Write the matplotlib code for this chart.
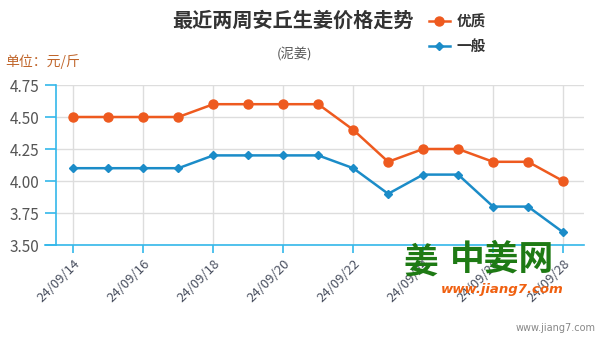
import matplotlib
matplotlib.use("Agg")
import matplotlib.pyplot as plt

plt.rcParams['font.family'] = ['Noto Sans CJK SC', 'DejaVu Sans']

dates = ["24/09/14", "24/09/15", "24/09/16", "24/09/17", "24/09/18", "24/09/19",
         "24/09/20", "24/09/21", "24/09/22", "24/09/23", "24/09/24", "24/09/25",
         "24/09/26", "24/09/27", "24/09/28"]
premium = [4.5, 4.5, 4.5, 4.5, 4.6, 4.6, 4.6, 4.6, 4.4, 4.15, 4.25, 4.25, 4.15, 4.15, 4.0]
regular = [4.1, 4.1, 4.1, 4.1, 4.2, 4.2, 4.2, 4.2, 4.1, 3.9, 4.05, 4.05, 3.8, 3.8, 3.6]
yticks = [3.50, 3.75, 4.00, 4.25, 4.50, 4.75]

orange = "#EE5A1F"
blue = "#1B8CC8"
axis_blue = "#34B8EA"

fig = plt.figure(figsize=(6, 3.4), dpi=100)
ax = fig.add_axes([56/600, 1-245/340, (584-56)/600, (245-85)/340])

x = list(range(len(dates)))
ax.plot(x, premium, color=orange, lw=1.8, marker='o', ms=6.5, label="优质", zorder=3)
ax.plot(x, regular, color=blue, lw=1.8, marker='D', ms=4.5, label="一般", zorder=3)

ax.set_xlim(-0.5, 14.6)
ax.set_ylim(3.5, 4.75)
ax.set_yticks(yticks)
ax.set_yticklabels([f"{v:.2f}" for v in yticks], fontsize=11, color="#555555")
ax.set_xticks(x[::2])
ax.set_xticklabels(dates[::2], rotation=45, ha='right', rotation_mode='anchor',
                   fontsize=9.5, color="#4A5060")

for s in ['top', 'right']:
    ax.spines[s].set_visible(False)
for s in ['left', 'bottom']:
    ax.spines[s].set_color(axis_blue)
    ax.spines[s].set_linewidth(1.2)
ax.tick_params(axis='y', direction='out', length=8, color=axis_blue, width=1.2, pad=4)
ax.tick_params(axis='x', direction='out', length=6, color=axis_blue, width=1.2, pad=3)
ax.grid(True, color="#DDDDDD", lw=1.0, zorder=0)
ax.set_axisbelow(True)

# bottom axis line extends left beyond spine
ax.plot([-0.5 - 11/35, -0.5], [3.5, 3.5], color=axis_blue, lw=1.2, clip_on=False)

fig.text(293/600, 1-20/340, "最近两周安丘生姜价格走势", ha='center', va='center',
         fontsize=14.5, fontweight='bold', color="#333333")
fig.text(295/600, 1-55/340, "(泥姜)", ha='center', va='center', fontsize=9.5, color="#555555")
fig.text(5/600, 1-62/340, "单位：元/斤", ha='left', va='center', fontsize=10, color="#C0652A")

leg = fig.legend(loc='upper left', bbox_to_anchor=(416/600, 1-0/340), frameon=False,
                 prop={'size': 10.5, 'weight': 'bold'}, handlelength=1.4,
                 labelspacing=0.6, handletextpad=0.5)
for t in leg.get_texts():
    t.set_color("#333333")

# watermark
fig.text(421/600, 1-262/340, "姜", ha='center', va='center', fontsize=25,
         fontweight='bold', color="#1E7A14")
fig.text(502/600, 1-259/340, "中姜网", ha='center', va='center', fontsize=25,
         fontweight='bold', color="#1E7A14")
fig.text(502/600, 1-289/340, "www.jiang7.com", ha='center', va='center', fontsize=9.5,
         fontweight='bold', style='italic', color="#F06010", family='DejaVu Sans')
fig.text(596/600, 1-328/340, "www.jiang7.com", ha='right', va='center', fontsize=7,
         color="#888888", family='DejaVu Sans')

fig.savefig("out.png", dpi=100)
